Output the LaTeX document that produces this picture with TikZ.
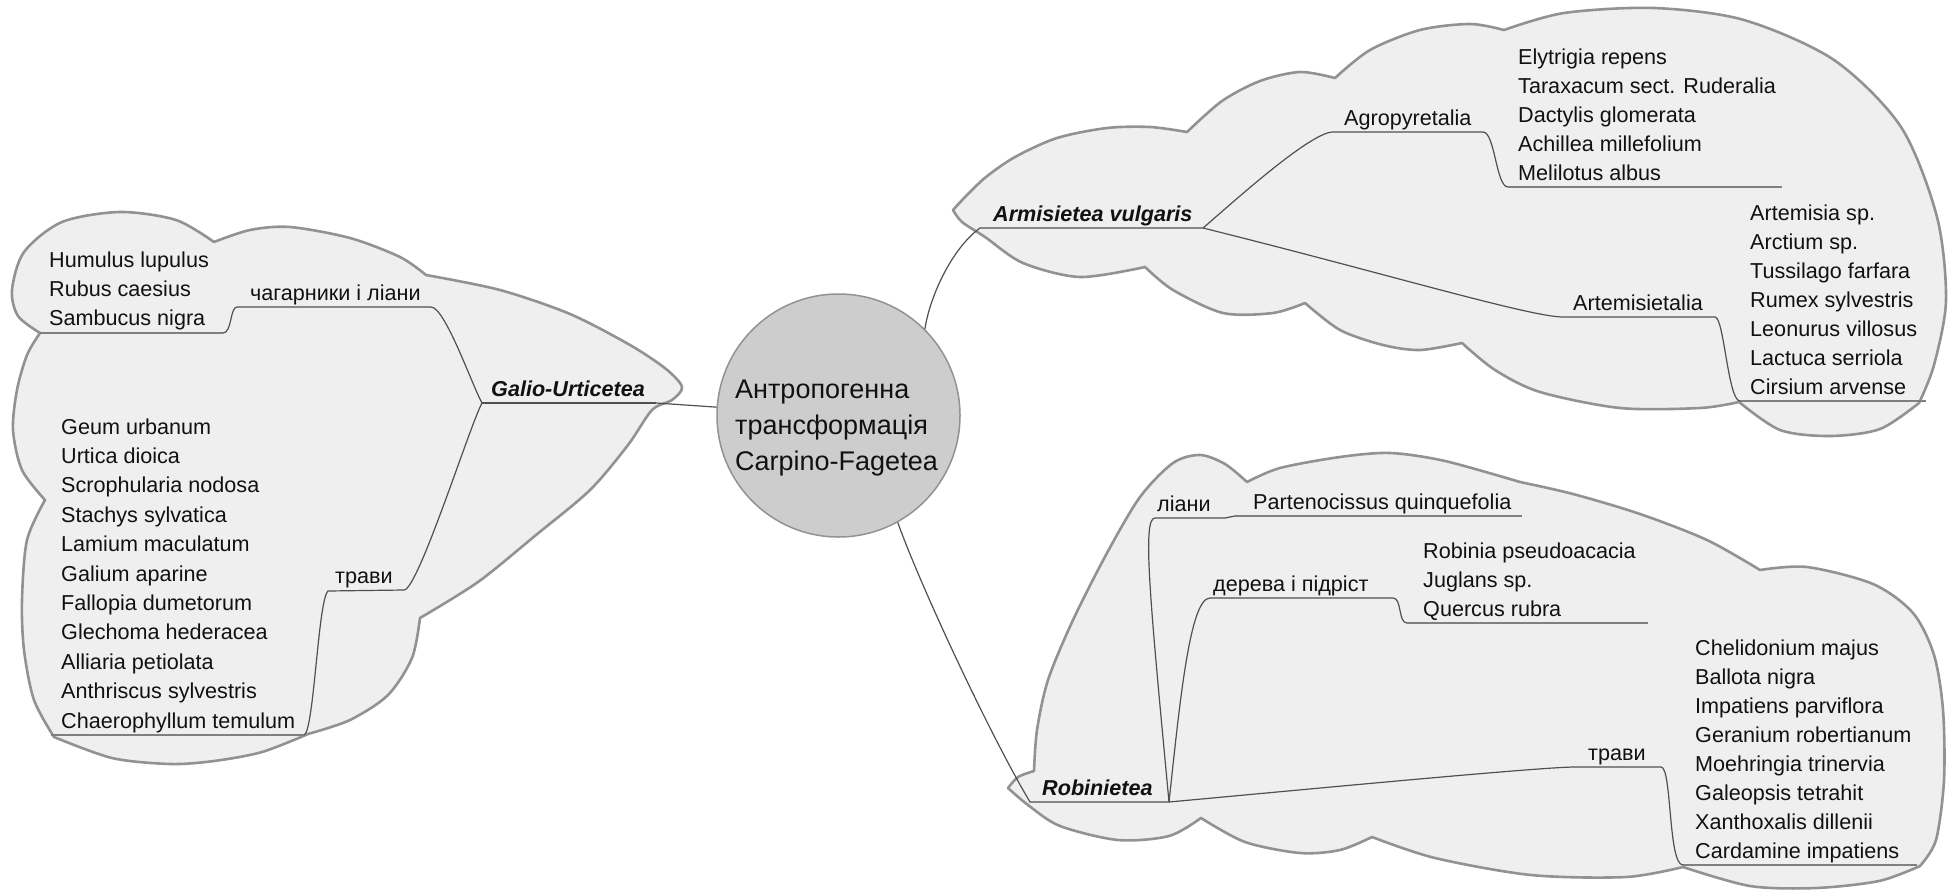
\documentclass[tikz,border=0pt]{standalone}
\usepackage{fontspec}
\setmainfont{Liberation Sans}
\definecolor{cloudfillc}{HTML}{EFEFEF}
\definecolor{cloudlinec}{HTML}{929292}
\definecolor{circfillc}{HTML}{CDCDCD}
\definecolor{connc}{HTML}{505050}
\definecolor{leafc}{HTML}{808080}
\definecolor{textc}{HTML}{111111}
\tikzset{
  cloud/.style={fill=cloudfillc, draw=cloudlinec, line width=2.6pt, line join=round},
  connector/.style={draw=connc, line width=1.2pt},
  leafline/.style={draw=leafc, line width=2pt},
  leaf/.style={anchor=base west, inner sep=0pt, text=textc, font=\fontsize{21.6}{29}\selectfont},
  catlabel/.style={leaf, font=\fontsize{21.6}{29}\selectfont\bfseries\itshape},
  centertext/.style={anchor=base west, inner sep=0pt, text=textc, font=\fontsize{27}{36}\selectfont},
}
\begin{document}
\begin{tikzpicture}[x=1pt, y=-1pt]
\path[use as bounding box, fill=white] (0,0) rectangle (1954,894);

% ---------- clouds ----------
\filldraw[cloud]
 (40,333) -- plot[smooth] coordinates {(40,333) (18,316) (12,290) (24,252) (62,222) (120,212) (176,220) (214,242)}
 -- plot[smooth] coordinates {(214,242) (250,230) (290,227) (350,238) (400,257) (426,275)}
 -- plot[smooth] coordinates {(426,275) (500,290) (570,314) (630,345) (666,369) (682,387) (672,400) (652,410) (628,445) (590,490) (536,535) (478,582) (420,618)}
 -- plot[smooth] coordinates {(420,618) (412,658) (388,695) (350,720) (308,734)}
 -- plot[smooth] coordinates {(308,734) (262,752) (214,761) (170,764) (112,758) (54,737)}
 -- plot[smooth] coordinates {(54,737) (34,700) (24,650) (22,600) (27,540) (45,500)}
 -- plot[smooth] coordinates {(45,500) (22,470) (13,430) (17,390) (27,355) (40,333)}
 -- cycle;

\filldraw[cloud]
 (953,210) -- plot[smooth] coordinates {(953,210) (966,196) (986,177) (1015,157) (1057,138) (1107,128) (1150,127) (1187,132)}
 -- plot[smooth] coordinates {(1187,132) (1222,101) (1260,81) (1300,72) (1335,78)}
 -- plot[smooth] coordinates {(1335,78) (1370,50) (1420,30) (1470,24) (1504,30)}
 -- plot[smooth] coordinates {(1504,30) (1564,13) (1654,8) (1744,20) (1834,60) (1901,127) (1937,217) (1946,300) (1934,365) (1919,403)}
 -- plot[smooth] coordinates {(1919,403) (1880,429) (1830,436) (1780,430) (1739,402)}
 -- plot[smooth] coordinates {(1739,402) (1700,408) (1620,408) (1540,392) (1495,370) (1462,343)}
 -- plot[smooth] coordinates {(1462,343) (1420,350) (1383,345) (1340,330) (1305,303)}
 -- plot[smooth] coordinates {(1305,303) (1273,313) (1223,313) (1173,290) (1145,267)}
 -- plot[smooth] coordinates {(1145,267) (1080,277) (1023,263) (985,237) (962,222) (953,210)}
 -- cycle;

\filldraw[cloud]
 (1008,788) -- plot[smooth] coordinates {(1008,788) (1018,777) (1034,771)}
 -- plot[smooth] coordinates {(1034,771) (1037,730) (1048,680) (1073,620) (1107,553) (1140,497) (1173,463) (1200,455) (1225,464) (1247,482)}
 -- plot[smooth] coordinates {(1247,482) (1280,468) (1340,457) (1390,453) (1445,461) (1520,482)}
 -- plot[smooth] coordinates {(1520,482) (1573,494) (1640,514) (1707,540) (1760,570)}
 -- plot[smooth] coordinates {(1760,570) (1807,567) (1873,584) (1913,613) (1934,655) (1943,710) (1944,780) (1936,840) (1920,866)}
 -- plot[smooth] coordinates {(1920,866) (1879,881) (1816,888) (1750,886) (1683,867)}
 -- plot[smooth] coordinates {(1683,867) (1626,877) (1531,875) (1435,858) (1372,837)}
 -- plot[smooth] coordinates {(1372,837) (1340,850) (1300,853) (1245,842) (1201,818)}
 -- plot[smooth] coordinates {(1201,818) (1169,836) (1118,840) (1060,826) (1028,805) (1008,788)}
 -- cycle;

% ---------- central circle ----------
\node[circle, fill=circfillc, draw=cloudlinec, line width=1.5pt, minimum size=243pt, inner sep=0pt] (circ) at (838.5,415.5) {};
\node[centertext] (ct1) at (735,398) {Антропогенна};
\node[centertext] (ct2) at (735,434) {трансформація};
\node[centertext] (ct3) at (735,470) {Carpino-Fagetea};

% ---------- junction coordinates ----------
\coordinate (gA) at (482,403);  \coordinate (gB) at (656,403);
\coordinate (chA) at (237,307); \coordinate (chB) at (431,307);
\coordinate (shA) at (40,333);  \coordinate (shB) at (223,333);
\coordinate (trA) at (328,591); \coordinate (trB) at (404,590);
\coordinate (hbA) at (51,735);  \coordinate (hbB) at (304,735);

\coordinate (aA) at (980,228);   \coordinate (aB) at (1203,228);
\coordinate (agA) at (1333,132); \coordinate (agB) at (1483,132);
\coordinate (elA) at (1508,187); \coordinate (elB) at (1782,187);
\coordinate (arA) at (1563,317); \coordinate (arB) at (1715,317);
\coordinate (atA) at (1740,401); \coordinate (atB) at (1926,401);

\coordinate (rA) at (1030,802);  \coordinate (rB) at (1169,802);
\coordinate (liA) at (1155,518); \coordinate (liB) at (1225,518);
\coordinate (paA) at (1235,516); \coordinate (paB) at (1522,516);
\coordinate (deA) at (1210,598); \coordinate (deB) at (1393,598);
\coordinate (roA) at (1407,623); \coordinate (roB) at (1648,623);
\coordinate (tbA) at (1575,767); \coordinate (tbB) at (1661,767);
\coordinate (chlA) at (1683,865); \coordinate (chlB) at (1917,865);

% ---------- connectors: Galio-Urticetea ----------
\draw[connector] (gB) -- (circ);
\draw[connector] (gA) -- (gB);
\draw[connector] (gA) .. controls (472,385) and (445,307) .. (chB) -- (chA) .. controls (230,307) and (232,333) .. (shB);
\draw[leafline] (shB) -- (shA);
\draw[connector] (gA) .. controls (470,425) and (418,590) .. (trB) -- (trA) .. controls (318,600) and (314,732) .. (hbB);
\draw[leafline] (hbB) -- (hbA);

% ---------- connectors: Armisietea ----------
\draw[connector] (circ.45) .. controls (929,300) and (950,250) .. (aA) -- (aB);
\draw[connector] (aB) .. controls (1230,205) and (1310,132) .. (agA) -- (agB) .. controls (1495,132) and (1496,187) .. (elA);
\draw[leafline] (elA) -- (elB);
\draw[connector] (aB) .. controls (1380,272) and (1530,317) .. (arA) -- (arB) .. controls (1724,317) and (1728,401) .. (atA);
\draw[leafline] (atA) -- (atB);

% ---------- connectors: Robinietea ----------
\draw[connector] (circ.-61) .. controls (920,585) and (990,735) .. (rA) -- (rB);
\draw[connector] (rB) .. controls (1150,600) and (1142,518) .. (liA) -- (liB) -- (paA);
\draw[leafline] (paA) -- (paB);
\draw[connector] (rB) .. controls (1180,700) and (1190,598) .. (deA) -- (deB) .. controls (1402,598) and (1398,623) .. (roA);
\draw[leafline] (roA) -- (roB);
\draw[connector] (rB) .. controls (1300,790) and (1540,767) .. (tbA) -- (tbB) .. controls (1672,767) and (1668,865) .. (chlA);
\draw[leafline] (chlA) -- (chlB);

% ---------- labels ----------
\node[catlabel] (galio) at (491,396) {Galio-Urticetea};
\node[leaf] (chag) at (250,300) {чагарники і ліани};
\node[leaf] (travyL) at (335,583) {трави};
\foreach \t [count=\i from 0] in {Humulus lupulus, Rubus caesius, Sambucus nigra}
  \node[leaf] (sh\i) at (49,267+29*\i) {\t};
\foreach \t [count=\i from 0] in {Geum urbanum, Urtica dioica, Scrophularia nodosa, Stachys sylvatica, Lamium maculatum, Galium aparine, Fallopia dumetorum, Glechoma hederacea, Alliaria petiolata, Anthriscus sylvestris, Chaerophyllum temulum}
  \node[leaf] (gh\i) at (61,434+29.4*\i) {\t};

\node[catlabel] (armis) at (993,221) {Armisietea vulgaris};
\node[leaf] (agro) at (1344,125) {Agropyretalia};
\node[leaf] (artl) at (1573,310) {Artemisietalia};
\foreach \t [count=\i from 0] in {Elytrigia repens, Taraxacum sect. Ruderalia, Dactylis glomerata, Achillea millefolium, Melilotus albus}
  \node[leaf] (ag\i) at (1518,64+29*\i) {\t};
\foreach \t [count=\i from 0] in {Artemisia sp., Arctium sp., Tussilago farfara, Rumex sylvestris, Leonurus villosus, Lactuca serriola, Cirsium arvense}
  \node[leaf] (at\i) at (1750,220+29*\i) {\t};

\node[catlabel] (robin) at (1042,795) {Robinietea};
\node[leaf] (liany) at (1157,511) {ліани};
\node[leaf] (parten) at (1253,509) {Partenocissus quinquefolia};
\node[leaf] (dereva) at (1213,591) {дерева і підріст};
\node[leaf] (travyR) at (1588,760) {трави};
\foreach \t [count=\i from 0] in {Robinia pseudoacacia, Juglans sp., Quercus rubra}
  \node[leaf] (rp\i) at (1423,558+29*\i) {\t};
\foreach \t [count=\i from 0] in {Chelidonium majus, Ballota nigra, Impatiens parviflora, Geranium robertianum, Moehringia trinervia, Galeopsis tetrahit, Xanthoxalis dillenii, Cardamine impatiens}
  \node[leaf] (cm\i) at (1695,655+29*\i) {\t};
\end{tikzpicture}
\end{document}
